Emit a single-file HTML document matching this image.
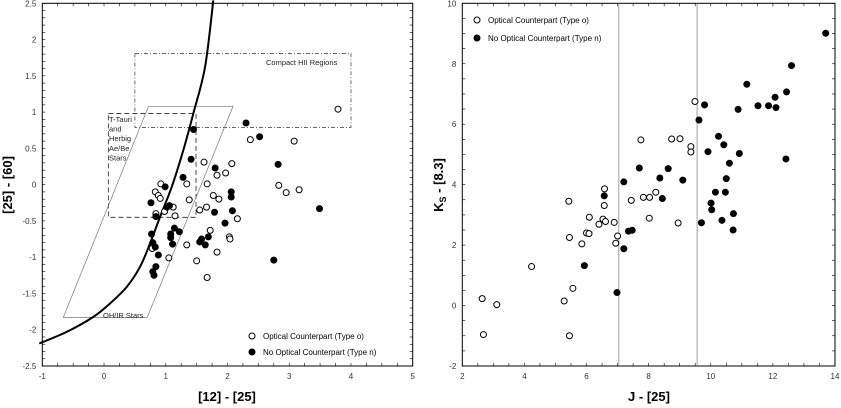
<!DOCTYPE html>
<html><head><meta charset="utf-8"><style>
html,body{margin:0;padding:0;background:#fff;}
svg{display:block;font-family:"Liberation Sans",sans-serif;}
</style></head><body>
<svg id="c" width="841" height="408" viewBox="0 0 841 408" xmlns="http://www.w3.org/2000/svg"></svg>
<script>
// ---- Left panel data ----
const leftXTicks = [-1,0,1,2,3,4,5];
const leftYTicks = [2.5,2,1.5,1,0.5,0,-0.5,-1,-1.5,-2,-2.5];
const leftOpenX = [3.79,2.37,3.08,1.62,2.07,1.97,1.83,0.92,1.34,1.67,2.83,0.83,2.95,3.16,0.88,0.91,1.77,1.86,1.38,1.12,1.66,1.55,0.98,0.84,1.15,2.16,1.72,2.03,2.04,1.34,0.78,1.83,1.05,1.50,1.67];
const leftOpenY = [1.04,0.62,0.60,0.31,0.29,0.16,0.13,0.01,0.01,0.01,-0.01,-0.10,-0.11,-0.07,-0.15,-0.19,-0.15,-0.20,-0.21,-0.31,-0.31,-0.35,-0.37,-0.40,-0.43,-0.47,-0.63,-0.72,-0.75,-0.83,-0.88,-0.93,-1.01,-1.05,-1.28];
const leftFillX = [2.30,2.52,1.45,2.82,1.41,1.80,1.28,0.99,2.06,2.06,0.76,1.06,1.02,2.08,1.79,3.49,0.84,1.96,1.14,1.22,0.77,1.08,1.08,1.69,1.58,1.55,1.11,1.64,0.79,0.83,0.88,2.75,0.84,0.79,0.81];
const leftFillY = [0.85,0.66,0.76,0.28,0.35,0.23,0.10,-0.03,-0.10,-0.17,-0.25,-0.29,-0.31,-0.36,-0.38,-0.33,-0.44,-0.53,-0.60,-0.65,-0.68,-0.68,-0.73,-0.72,-0.75,-0.79,-0.82,-0.83,-0.80,-0.86,-0.97,-1.04,-1.13,-1.20,-1.25];
const curveX = [-1.05,-0.605,-0.173,0.097,0.368,0.583,0.75,0.908,1.097,1.285,1.447,1.637,1.77];
const curveY = [-2.19,-2.03,-1.823,-1.638,-1.409,-1.133,-0.8,-0.443,-0.03,0.477,0.983,1.625,2.54];
const hiiBox = [0.5,4.0,0.79,1.81];
const ttauriBox = [0.07,1.49,-0.45,0.98];
const ohirX = [-0.66,0.70,2.09,0.72];
const ohirY = [-1.83,-1.83,1.08,1.08];
// ---- Right panel data ----
const rightXTicks = [2,4,6,8,10,12,14];
const rightYTicks = [10,8,6,4,2,0,-2];
const rightOpenX = [9.49,7.75,8.74,9.01,9.36,9.36,6.58,6.57,5.43,7.44,7.83,8.03,8.23,6.09,6.53,6.61,6.89,6.40,8.02,8.95,6.00,6.08,7.00,5.45,6.94,5.85,4.23,5.56,5.28,2.64,3.11,2.68,5.45];
const rightOpenY = [6.75,5.48,5.51,5.52,5.26,5.08,3.86,3.31,3.45,3.48,3.58,3.58,3.75,2.92,2.86,2.78,2.75,2.69,2.89,2.73,2.40,2.38,2.30,2.25,2.06,2.04,1.29,0.57,0.15,0.23,0.03,-0.96,-1.0];
const rightFillX = [13.70,12.60,11.16,12.44,12.07,12.10,11.52,11.86,10.88,9.80,9.62,10.25,10.42,9.91,10.92,12.42,10.60,7.70,8.63,8.36,9.10,10.50,7.20,6.57,10.15,10.47,8.44,10.01,10.03,10.73,9.70,10.36,10.72,7.47,7.35,7.20,5.93,6.98];
const rightFillY = [9.01,7.94,7.32,7.07,6.89,6.55,6.61,6.61,6.49,6.64,6.14,5.60,5.32,5.09,5.03,4.85,4.71,4.55,4.53,4.22,4.15,4.20,4.09,3.63,3.75,3.75,3.54,3.39,3.17,3.04,2.74,2.82,2.50,2.49,2.46,1.88,1.32,0.43];
const rightVLines = [7.04,9.56];

const NS="http://www.w3.org/2000/svg";
const svg=document.getElementById('c');
function mk(tag,attrs,parent){const e=document.createElementNS(NS,tag);for(const k in attrs)e.setAttribute(k,attrs[k]);(parent||svg).appendChild(e);return e;}

function panel(name,L,R,T,B,xmin,xmax,ymin,ymax){
  const g=mk('g',{});
  
  
  const sx=v=>L+(v-xmin)/(xmax-xmin)*(R-L);
  const sy=v=>B-(v-ymin)/(ymax-ymin)*(B-T);
  return {g,sx,sy,L,R,T,B};
}
function frame(p,xt,yt,xminor,yminor,xmin,xmax,ymin,ymax){
  const f=mk('rect',{x:p.L,y:p.T,width:p.R-p.L,height:p.B-p.T,fill:'none',stroke:'#000','stroke-width':1},p.g);
  
  
  for(let v=xmin;v<=xmax+1e-9;v+=xminor){const x=p.sx(v);mk('line',{x1:x,x2:x,y1:p.B,y2:p.B-3,stroke:'#000','stroke-width':0.6},p.g);mk('line',{x1:x,x2:x,y1:p.T,y2:p.T+3,stroke:'#000','stroke-width':0.6},p.g);}
  for(let v=ymin;v<=ymax+1e-9;v+=yminor){const y=p.sy(v);mk('line',{x1:p.L,x2:p.L+3,y1:y,y2:y,stroke:'#000','stroke-width':0.6},p.g);mk('line',{x1:p.R,x2:p.R-3,y1:y,y2:y,stroke:'#000','stroke-width':0.6},p.g);}
  xt.forEach(v=>{const t=mk('text',{x:p.sx(v),y:p.B+13,'font-size':8,'text-anchor':'middle',fill:'#333'},p.g);t.textContent=v;
    });
  yt.forEach(v=>{const t=mk('text',{x:p.L-6,y:p.sy(v)+3,'font-size':8,'text-anchor':'end',fill:'#333'},p.g);t.textContent=v;
    });
}
function pts(p,xs,ys,filled,name){
  xs.forEach((x,i)=>{const c=mk('circle',{cx:p.sx(x),cy:p.sy(ys[i]),r:3,fill:filled?'#000':'#fff',stroke:'#000','stroke-width':1},p.g);
    });
}
function legend(p,x,y1,y2){
  const a=mk('circle',{cx:x,cy:y1,r:3,fill:'#fff',stroke:'#000','stroke-width':1},p.g);
  
  const t1=mk('text',{x:x+11,y:y1+3,'font-size':8},p.g);t1.textContent='Optical Counterpart (Type o)';
  
  const b=mk('circle',{cx:x,cy:y2,r:3,fill:'#000',stroke:'#000','stroke-width':1},p.g);
  
  const t2=mk('text',{x:x+11,y:y2+3,'font-size':8},p.g);t2.textContent='No Optical Counterpart (Type n)';
  
}

// Left panel
const P=panel('left-panel',42.3,412.7,3.3,366,-1,5,-2.5,2.5);
frame(P,leftXTicks,leftYTicks,0.25,0.1,-1,5,-2.5,2.5);
let r=mk('rect',{x:P.sx(hiiBox[0]),y:P.sy(hiiBox[3]),width:P.sx(hiiBox[1])-P.sx(hiiBox[0]),height:P.sy(hiiBox[2])-P.sy(hiiBox[3]),fill:'none',stroke:'#333','stroke-width':0.7,'stroke-dasharray':'4,2,1,2'},P.g);

r=mk('rect',{x:P.sx(ttauriBox[0]),y:P.sy(ttauriBox[3]),width:P.sx(ttauriBox[1])-P.sx(ttauriBox[0]),height:P.sy(ttauriBox[2])-P.sy(ttauriBox[3]),fill:'none',stroke:'#222','stroke-width':0.8,'stroke-dasharray':'5,3'},P.g);

r=mk('polygon',{points:ohirX.map((x,i)=>P.sx(x)+','+P.sy(ohirY[i])).join(' '),fill:'none',stroke:'#777','stroke-width':0.7},P.g);

(function(){const q=curveX.map((x,i)=>[P.sx(x),P.sy(curveY[i])]);let d='M'+q[0][0]+','+q[0][1];
for(let i=0;i<q.length-1;i++){const p0=q[Math.max(i-1,0)],p1=q[i],p2=q[i+1],p3=q[Math.min(i+2,q.length-1)];
d+=' C'+(p1[0]+(p2[0]-p0[0])/6)+','+(p1[1]+(p2[1]-p0[1])/6)+' '+(p2[0]-(p3[0]-p1[0])/6)+','+(p2[1]-(p3[1]-p1[1])/6)+' '+p2[0]+','+p2[1];}
const c=mk('path',{d:d,fill:'none',stroke:'#000','stroke-width':2},P.g);
})();
r=mk('text',{x:266,y:65,'font-size':7.5,fill:'#222'},P.g);r.textContent='Compact HII Regions';
['T-Tauri','and','Herbig','Ae/Be','Stars'].forEach((s,i)=>{const t=mk('text',{x:109,y:122+i*9.6,'font-size':7.5,fill:'#222'},P.g);t.textContent=s;});
r=mk('text',{x:103,y:318,'font-size':7.5,fill:'#222'},P.g);r.textContent='OH/IR Stars';
pts(P,leftOpenX,leftOpenY,false,'point-type-o');
pts(P,leftFillX,leftFillY,true,'point-type-n');
legend(P,252,336,352);
r=mk('text',{x:227,y:401,'font-size':13,'font-weight':'bold','text-anchor':'middle'});r.textContent='[12] - [25]';
r=mk('text',{x:0,y:0,'font-size':13,'font-weight':'bold','text-anchor':'middle',transform:'translate(12,185) rotate(-90)'});r.textContent='[25] - [60]';

// Right panel
const Q=panel('right-panel',462.3,835,3.3,366,2,14,-2,10);
frame(Q,rightXTicks,rightYTicks,0.5,0.5,2,14,-2,10);
rightVLines.forEach(v=>{const l=mk('line',{x1:Q.sx(v),x2:Q.sx(v),y1:Q.T,y2:Q.B,stroke:'#888','stroke-width':0.8},Q.g);});
pts(Q,rightOpenX,rightOpenY,false,'point-type-o');
pts(Q,rightFillX,rightFillY,true,'point-type-n');
legend(Q,477,20,38);
r=mk('text',{x:649,y:401,'font-size':13,'font-weight':'bold','text-anchor':'middle'});r.textContent='J - [25]';
r=mk('text',{x:0,y:0,'font-size':13,'font-weight':'bold','text-anchor':'middle',transform:'translate(443,185) rotate(-90)'});
r.innerHTML='K<tspan font-size="9" dy="3">S</tspan><tspan dy="-3"> - [8.3]</tspan>';

</script>
</body></html>
